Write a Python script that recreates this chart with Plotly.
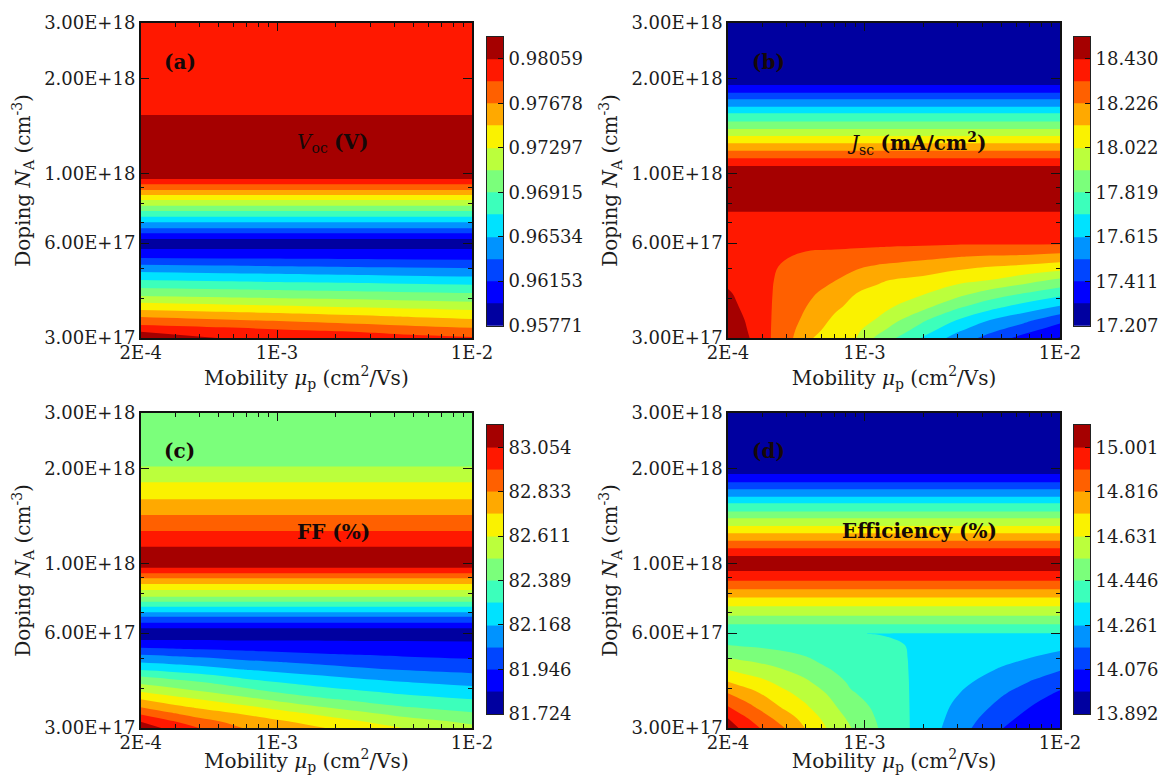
import plotly.graph_objects as go

# Colour-bar tick labels (every second contour level)
VOC_TICKS = ["0.95771", "0.96153", "0.96534", "0.96915", "0.97297", "0.97678", "0.98059"]
JSC_TICKS = ["17.207", "17.411", "17.615", "17.819", "18.022", "18.226", "18.430"]
FF_TICKS = ["81.724", "81.946", "82.168", "82.389", "82.611", "82.833", "83.054"]
EFF_TICKS = ["13.892", "14.076", "14.261", "14.446", "14.631", "14.816", "15.001"]

# Values below are read from the colours in the picture, as a position on the
# panel's own colour bar (0 = bottom of the bar, 13 = top, one unit per band).
VOC_X = [2e-4, 5.32e-4, 1.41e-3, 3.76e-3, 1e-2]
VOC_FLAT_Y = [3e18, 1.535e18, 1.53e18, 1.186e18, 9.59e17, 9.23e17, 8.85e17, 8.53e17, 8.23e17,
              7.89e17, 7.59e17, 7.28e17, 6.99e17, 6.69e17, 6.45e17, 6.19e17, 5.97e17, 5.75e17]
VOC_FLAT = [11.5, 11.9, 12.1, 12.5, 12, 11, 10, 9, 8, 7, 6, 5, 4, 3, 2, 1, 0.5, 1]
VOC_VAR_Y = [5.38e17, 5.12e17, 4.86e17, 4.58e17, 4.32e17, 4.08e17, 3.88e17, 3.68e17, 3.50e17,
             3.30e17, 3.14e17, 3e17]
VOC_VAR = [
    [2, 1.95, 1.9, 1.85, 1.8],
    [3, 2.9, 2.8, 2.7, 2.63],
    [4, 3.86, 3.72, 3.58, 3.44],
    [5, 4.86, 4.72, 4.57, 4.43],
    [6, 5.86, 5.72, 5.58, 5.44],
    [7, 6.83, 6.66, 6.5, 6.33],
    [8, 7.78, 7.56, 7.35, 7.13],
    [9, 8.75, 8.5, 8.25, 8],
    [10, 9.7, 9.4, 9.08, 8.78],
    [11, 10.67, 10.33, 10, 9.67],
    [12, 11.6, 11.2, 10.85, 10.44],
    [12.6, 11.95, 11.6, 11.35, 11.1],
]

JSC_X = [2e-4, 2.58e-4, 3.31e-4, 4.30e-4, 5.45e-4, 7.04e-4, 9.09e-4, 1.15e-3, 1.346e-3, 1.99e-3,
         2.96e-3, 4.38e-3, 6.49e-3, 1e-2]
JSC_FLAT_Y = [3e18, 2.0e18, 1.907e18, 1.802e18, 1.718e18, 1.627e18, 1.550e18, 1.459e18, 1.382e18,
              1.314e18, 1.245e18, 1.180e18, 1.116e18, 1.055e18, 8.85e17, 7.56e17, 7.54e17]
JSC_FLAT = [0.5, 0.5, 1, 2, 3, 4, 5, 6, 7, 8, 9, 10, 11, 12, 12.5, 12.1, 11.9]
JSC_VAR_Y = [5.99e17, 5.71e17, 5.44e17, 5.05e17, 4.58e17, 4.16e17, 3.77e17, 3.42e17, 3.18e17, 3e17]
JSC_VAR = [
    [11.5, 11.55, 11.5, 11.45, 11.4, 11.25, 11.2, 11.2, 11.2, 11.15, 11.1, 11.1, 11.1, 11.1],
    [11.5, 11.55, 11.4, 11.1, 11.01, 10.98, 10.93, 10.85, 10.8, 10.75, 10.6, 10.55, 10.5, 10.35],
    [11.5, 11.55, 11.2, 10.98, 10.75, 10.76, 10.6, 10.45, 10.4, 10.25, 10.05, 9.9, 9.85, 9.65],
    [11.55, 11.55, 11.1, 10.8, 10.45, 10.45, 10.1, 9.9, 9.8, 9.55, 9.25, 9.0, 8.8, 8.5],
    [11.8, 11.6, 11.05, 10.7, 10.25, 10.03, 9.65, 9.18, 9.0, 8.75, 8.3, 8.0, 7.45, 6.8],
    [12.1, 11.6, 11.04, 10.55, 10.08, 9.6, 9.0, 8.7, 8.55, 8.1, 7.4, 6.6, 6.0, 5.35],
    [12.3, 11.7, 11.03, 10.4, 9.8, 9.17, 8.7, 8.35, 8.1, 7.3, 6.2, 5.35, 4.6, 3.9],
    [12.5, 11.85, 11.02, 10.25, 9.5, 8.82, 8.4, 7.95, 7.4, 6.15, 5.0, 4.0, 3.3, 2.3],
    [12.6, 11.93, 11.01, 10.1, 9.25, 8.6, 8.2, 7.35, 6.8, 5.5, 4.2, 3.25, 2.4, 1.4],
    [12.7, 12.0, 11.005, 10.005, 9.0, 8.4, 8.0, 6.85, 6.25, 4.9, 3.6, 2.65, 1.65, 0.95],
]

FF_X = [2e-4, 2.79e-4, 3.98e-4, 6.63e-4, 9.83e-4, 1.77e-3, 4.38e-3, 1e-2]
FF_FLAT_Y = [3e18, 2.06e18, 2.03e18, 1.808e18, 1.596e18, 1.424e18, 1.266e18, 1.129e18, 1.047e18,
             9.68e17, 9.29e17, 8.96e17, 8.60e17, 8.23e17, 7.83e17, 7.55e17, 7.28e17, 6.99e17,
             6.77e17, 6.48e17, 6.22e17, 5.99e17]
FF_FLAT = [6.5, 6.6, 7, 8, 9, 10, 11, 12, 12.6, 12, 11, 10, 9, 8, 7, 6, 5, 4, 3, 2, 1, 0.5]
FF_VAR_Y = [5.71e17, 5.39e17, 5.12e17, 4.84e17, 4.58e17, 4.37e17, 4.14e17, 3.91e17, 3.70e17,
            3.49e17, 3.31e17, 3.14e17, 3e17]
FF_VAR = [
    [1, 1, 1, 0.95, 0.95, 0.95, 0.93, 0.92],
    [2, 1.92, 1.82, 1.71, 1.62, 1.51, 1.41, 1.35],
    [3, 2.87, 2.71, 2.46, 2.3, 2.09, 1.89, 1.72],
    [4, 3.83, 3.64, 3.29, 3.07, 2.79, 2.45, 2.26],
    [5, 4.78, 4.52, 4.07, 3.8, 3.45, 3, 2.77],
    [6, 5.71, 5.36, 4.79, 4.47, 4.06, 3.57, 3.26],
    [7, 6.62, 6.28, 5.62, 5.19, 4.71, 4.18, 3.84],
    [8, 7.54, 7.08, 6.46, 5.94, 5.39, 4.79, 4.43],
    [9, 8.46, 8.0, 7.32, 6.81, 6.11, 5.41, 5],
    [10, 9.4, 8.86, 8.26, 7.76, 7, 6.07, 5.62],
    [11, 10.26, 9.63, 9.03, 8.54, 7.84, 6.77, 6.17],
    [12, 11.19, 10.44, 9.6, 9.2, 8.55, 7.5, 6.8],
    [12.7, 11.74, 11, 10, 9.55, 9, 8, 7.25],
]

EFF_X = [2e-4, 2.39e-4, 2.91e-4, 3.90e-4, 4.94e-4, 6.38e-4, 8.57e-4, 1.174e-3, 1.346e-3, 1.608e-3,
         1.704e-3, 2.48e-3, 3.53e-3, 5.13e-3, 7.30e-3, 1e-2]
EFF_FLAT_Y = [3e18, 1.95e18, 1.921e18, 1.808e18, 1.718e18, 1.627e18, 1.550e18, 1.459e18, 1.389e18,
              1.314e18, 1.245e18, 1.180e18, 1.116e18, 1.055e18, 1.002e18, 9.45e17, 8.81e17, 8.27e17,
              7.79e17, 7.30e17, 6.82e17, 6.40e17, 6.14e17, 6.00e17]
EFF_FLAT = [0.5, 0.5, 1, 2, 3, 4, 5, 6, 7, 8, 9, 10, 11, 12, 12.6, 12, 11, 10, 9, 8, 7, 6, 5.5, 5.05]
EFF_VAR_Y = [5.98e17, 5.85e17, 5.50e17, 5.00e17, 4.58e17, 4.21e17, 3.87e17, 3.52e17, 3.22e17, 3e17]
EFF_VAR = [
    [5.3, 5.2, 5.2, 5.15, 5.1, 5.05, 5.02, 4.985, 4.97, 4.9, 4.85, 4.8, 4.8, 4.75, 4.7, 4.7],
    [5.45, 5.35, 5.35, 5.3, 5.2, 5.12, 5.1, 5.03, 4.99, 4.92, 4.86, 4.78, 4.75, 4.7, 4.6, 4.55],
    [6, 5.9, 5.83, 5.65, 5.5, 5.3, 5.2, 5.15, 5.1, 5.0, 4.9, 4.75, 4.6, 4.45, 4.35, 4.3],
    [7, 6.82, 6.67, 6.38, 6.1, 5.7, 5.45, 5.3, 5.2, 5.05, 4.96, 4.65, 4.42, 4.2, 3.97, 3.65],
    [8, 7.71, 7.46, 7.02, 6.65, 6.1, 5.63, 5.42, 5.3, 5.07, 4.97, 4.55, 4.25, 3.9, 3.44, 3.03],
    [9, 8.62, 8.27, 7.62, 7.17, 6.54, 5.83, 5.55, 5.4, 5.09, 4.98, 4.45, 4.03, 3.48, 2.92, 2.43],
    [10, 9.5, 9, 8.2, 7.65, 6.98, 6.07, 5.67, 5.5, 5.1, 4.985, 4.35, 3.77, 3.07, 2.46, 1.85],
    [11, 10.4, 9.76, 8.78, 8.13, 7.37, 6.43, 5.78, 5.6, 5.12, 4.99, 4.2, 3.48, 2.68, 1.95, 1.55],
    [12, 11.2, 10.5, 9.5, 8.67, 7.73, 6.77, 5.9, 5.7, 5.15, 4.995, 4.1, 3.2, 2.3, 1.55, 1.25],
    [12.7, 11.7, 11, 10, 9, 8, 7, 6, 5.75, 5.2, 5.0, 4.0, 3, 2, 1.35, 1.1],
]

BAND_COLORS = ["#0000A0", "#0000FF", "#0045FF", "#0093FF", "#00E2FF", "#3CFFBB", "#7BFF7B",
               "#BBFF3C", "#FAF200", "#FFA900", "#FF6000", "#FF1800", "#A50000"]

X_TICKS = [2e-4, 1e-3, 1e-2]
X_TICK_TEXT = ["2E-4", "1E-3", "1E-2"]
X_MINOR = [3e-4, 4e-4, 5e-4, 6e-4, 7e-4, 8e-4, 9e-4, 2e-3, 3e-3, 4e-3, 5e-3, 6e-3, 7e-3, 8e-3, 9e-3]
Y_TICKS = [3e17, 6e17, 1e18, 2e18, 3e18]
Y_TICK_TEXT = ["3.00E+17", "6.00E+17", "1.00E+18", "2.00E+18", "3.00E+18"]
Y_MINOR = [4e17, 5e17, 7e17, 8e17, 9e17]

W, H = 1162, 775
SERIF = "DejaVu Serif"
INK = "#1c1c1c"
X_TITLE = "Mobility <i>μ</i><sub>p</sub> (cm<sup>2</sup>/Vs)"
Y_TITLE = "Doping <i>N</i><sub>A</sub> (cm<sup>-3</sup>)"
N_BANDS = len(BAND_COLORS)

contour_scale = ([[0, BAND_COLORS[0]]]
                 + [[(k + 1) / (N_BANDS + 1), c] for k, c in enumerate(BAND_COLORS)]
                 + [[1, BAND_COLORS[-1]]])
bar_scale = [[k / (N_BANDS - 1), c] for k, c in enumerate(BAND_COLORS)]

panels = [
    dict(ticks=VOC_TICKS, x=VOC_X, fy=VOC_FLAT_Y, f=VOC_FLAT, vy=VOC_VAR_Y, v=VOC_VAR,
         box=(140.7, 472, 23, 338), cb=(487, 503, 36.7, 325.7), standoff=1,
         notes=[("<b>(a)</b>", 180, 62), ("<i>V</i><sub>oc</sub> <b>(V)</b>", 333, 143)]),
    dict(ticks=JSC_TICKS, x=JSC_X, fy=JSC_FLAT_Y, f=JSC_FLAT, vy=JSC_VAR_Y, v=JSC_VAR,
         box=(728, 1060, 23, 338), cb=(1074, 1090, 36.7, 325.7), standoff=1,
         notes=[("<b>(b)</b>", 768, 62), ("<i>J</i><sub>sc</sub> <b>(mA/cm<sup>2</sup>)</b>", 916, 143)]),
    dict(ticks=FF_TICKS, x=FF_X, fy=FF_FLAT_Y, f=FF_FLAT, vy=FF_VAR_Y, v=FF_VAR,
         box=(140.7, 472, 413, 728), cb=(487, 503, 425, 714), standoff=4,
         notes=[("<b>(c)</b>", 179, 451), ("<b>FF (%)</b>", 333, 532)]),
    dict(ticks=EFF_TICKS, x=EFF_X, fy=EFF_FLAT_Y, f=EFF_FLAT, vy=EFF_VAR_Y, v=EFF_VAR,
         box=(728, 1060, 413, 728), cb=(1074, 1090, 425, 714), standoff=4,
         notes=[("<b>(d)</b>", 768, 451), ("<b>Efficiency (%)</b>", 920, 531)]),
]

fig = go.Figure()
annotations = []
layout_axes = {}
for i, p in enumerate(panels, start=1):
    tick_vals = [float(t) for t in p["ticks"]]
    step = (tick_vals[-1] - tick_vals[0]) / 12
    start = tick_vals[0]
    top = start + N_BANDS * step
    pos_rows = [[v] * len(p["x"]) for v in p["f"]] + p["v"]
    z_top_down = [[start + step * c for c in row] for row in pos_rows]
    y_top_down = p["fy"] + p["vy"]
    l, r, t, b = p["box"]
    cl, cr, ct, cb = p["cb"]
    suffix = "" if i == 1 else str(i)
    bar = str(i + 4)
    fig.add_trace(go.Contour(
        x=p["x"], y=y_top_down[::-1], z=z_top_down[::-1],
        xaxis="x" + suffix, yaxis="y" + suffix,
        autocontour=False, showscale=False,
        contours=dict(start=start, end=top, size=step, coloring="fill", showlines=False),
        line=dict(width=0, smoothing=1.1),
        colorscale=contour_scale,
    ))
    # the outer edges run a little past the axis range so no pale seam shows at the bar's ends
    bar_edges = [start + k * step for k in range(N_BANDS + 1)]
    bar_edges[0] -= 0.2 * step
    bar_edges[-1] += 0.2 * step
    fig.add_trace(go.Heatmap(
        x=[0, 1], y=bar_edges,
        z=[[k] for k in range(N_BANDS)], zmin=0, zmax=N_BANDS - 1,
        colorscale=bar_scale, showscale=False,
        xaxis="x" + bar, yaxis="y" + bar,
    ))
    common = dict(type="log", showline=True, mirror="ticks", linecolor="#111", linewidth=1.5,
                  ticks="inside", tickwidth=1.2, tickcolor="#111", showgrid=False, zeroline=False,
                  tickfont=dict(family=SERIF, size=18, color=INK))
    layout_axes["xaxis" + suffix] = dict(
        common, domain=[l / W, r / W], anchor="y" + suffix,
        range=[-3.69897, -2], tickmode="array", tickvals=X_TICKS, ticktext=X_TICK_TEXT, ticklen=8,
        ticklabelstandoff=-2,
        minor=dict(ticks="inside", tickmode="array", tickvals=X_MINOR, ticklen=4, tickcolor="#111", showgrid=False),
        title=dict(text=X_TITLE, font=dict(family=SERIF, size=20, color=INK), standoff=p["standoff"]),
    )
    layout_axes["yaxis" + suffix] = dict(
        common, domain=[1 - b / H, 1 - t / H], anchor="x" + suffix,
        range=[17.47712, 18.47712], tickmode="array", tickvals=Y_TICKS, ticktext=Y_TICK_TEXT, ticklen=9,
        minor=dict(ticks="inside", tickmode="array", tickvals=Y_MINOR, ticklen=4, tickcolor="#111", showgrid=False),
        title=dict(text=Y_TITLE, font=dict(family=SERIF, size=20, color=INK), standoff=8),
    )
    layout_axes["xaxis" + bar] = dict(
        domain=[cl / W, cr / W], anchor="y" + bar, range=[0, 1],
        showticklabels=False, ticks="", showgrid=False, zeroline=False,
        showline=True, mirror=True, linecolor="#222", linewidth=1,
    )
    layout_axes["yaxis" + bar] = dict(
        domain=[1 - cb / H, 1 - ct / H], anchor="x" + bar, side="right",
        range=[start, top], tickmode="array", tickvals=tick_vals, ticktext=p["ticks"],
        ticks="inside", ticklen=5, tickwidth=1, tickcolor="#111", ticklabelstandoff=1,
        showgrid=False, zeroline=False, showline=True, mirror=True, linecolor="#222", linewidth=1,
        tickfont=dict(family=SERIF, size=18, color=INK),
    )
    for text, px, py in p["notes"]:
        annotations.append(dict(text=text, x=px / W, y=1 - py / H, xref="paper", yref="paper",
                                xanchor="center", yanchor="middle", showarrow=False,
                                font=dict(family=SERIF, size=20, color="#160808")))

fig.update_layout(width=W, height=H, margin=dict(l=0, r=0, t=0, b=0, autoexpand=False), paper_bgcolor="white",
                  plot_bgcolor="white", showlegend=False, annotations=annotations, **layout_axes)

fig.write_html("out.html", config={"displayModeBar": False}, post_script="document.body.style.margin='0';")
